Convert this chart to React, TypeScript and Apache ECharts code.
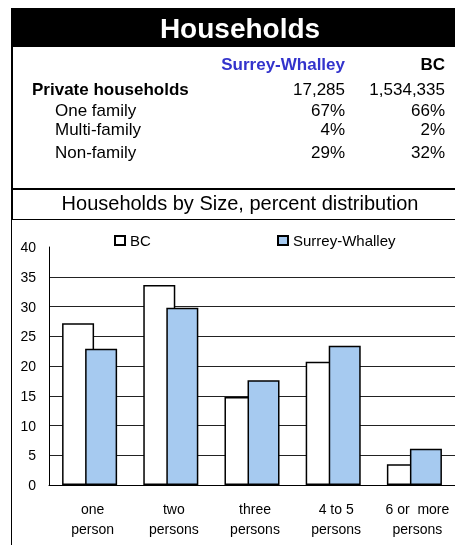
import React, { useEffect, useRef } from "react";
import * as echarts from "echarts";

const categories = ["one\nperson", "two\npersons", "three\npersons", "4 to 5\npersons", "6 or  more\npersons"];
const bcValues = [27.2, 33.6, 14.8, 20.7, 3.5];
const surreyValues = [22.9, 29.8, 17.6, 23.4, 6.1];
const yTicks = { min: 0, max: 40, interval: 5 };

const tableHeaders = ["Surrey-Whalley", "BC"];
const rowLabels = ["Private households", "One family", "Multi-family", "Non-family"];
const surreyColumn = ["17,285", "67%", "4%", "29%"];
const bcColumn = ["1,534,335", "66%", "2%", "32%"];

const FONT = "Liberation Sans, Arial, sans-serif";

export default function App() {
  const ref = useRef<HTMLDivElement>(null);
  useEffect(() => {
    if (!ref.current) return;
    const chart = echarts.init(ref.current, null, { renderer: "svg" });

    const rowY = [89, 110, 129, 152];
    const rowX = [32, 55, 55, 55];
    const graphic: any[] = [
      { type: "rect", shape: { x: 11, y: 8, width: 444, height: 39 }, style: { fill: "#000" } },
      {
        type: "text", x: 240, y: 28,
        style: { text: "Households", fill: "#fff", font: `bold 28px ${FONT}`, align: "center", verticalAlign: "middle" },
      },
      { type: "line", shape: { x1: 12, y1: 47, x2: 12, y2: 219 }, style: { stroke: "#000", lineWidth: 2 } },
      { type: "line", shape: { x1: 11, y1: 189, x2: 455, y2: 189 }, style: { stroke: "#000", lineWidth: 2 } },
      { type: "line", shape: { x1: 11, y1: 219.5, x2: 455, y2: 219.5 }, style: { stroke: "#000", lineWidth: 1 } },
      { type: "line", shape: { x1: 11.5, y1: 219, x2: 11.5, y2: 545 }, style: { stroke: "#000", lineWidth: 1 } },
      {
        type: "text", x: 240, y: 203,
        style: { text: "Households by Size, percent distribution", fill: "#000", font: `20px ${FONT}`, align: "center", verticalAlign: "middle" },
      },
      {
        type: "text", x: 345, y: 64,
        style: { text: tableHeaders[0], fill: "#3333CC", font: `bold 17px ${FONT}`, align: "right", verticalAlign: "middle" },
      },
      {
        type: "text", x: 445, y: 64,
        style: { text: tableHeaders[1], fill: "#000", font: `bold 17px ${FONT}`, align: "right", verticalAlign: "middle" },
      },
    ];
    rowLabels.forEach((lab, i) => {
      const weight = i === 0 ? "bold " : "";
      graphic.push({
        type: "text", x: rowX[i], y: rowY[i],
        style: { text: lab, fill: "#000", font: `${weight}17px ${FONT}`, align: "left", verticalAlign: "middle" },
      });
      graphic.push({
        type: "text", x: 345, y: rowY[i],
        style: { text: surreyColumn[i], fill: "#000", font: `17px ${FONT}`, align: "right", verticalAlign: "middle" },
      });
      graphic.push({
        type: "text", x: 445, y: rowY[i],
        style: { text: bcColumn[i], fill: "#000", font: `17px ${FONT}`, align: "right", verticalAlign: "middle" },
      });
    });

    const legendCommon = {
      top: 233,
      padding: 0,
      itemWidth: 10,
      itemHeight: 9,
      icon: "rect",
      textStyle: { fontSize: 15, color: "#000", fontFamily: FONT },
    };

    chart.setOption({
      animation: false,
      graphic,
      legend: [
        { ...legendCommon, left: 114, data: ["BC"] },
        { ...legendCommon, left: 277, data: ["Surrey-Whalley"] },
      ],
      grid: { left: 49, right: -3, top: 247, bottom: 60, containLabel: false },
      xAxis: {
        type: "category",
        data: categories,
        axisLine: { lineStyle: { color: "#000", width: 1 } },
        axisTick: { show: false },
        axisLabel: {
          fontSize: 14, lineHeight: 20, color: "#000", fontFamily: FONT, margin: 14, interval: 0,
          padding: [0, 0, 0, 6],
        },
      },
      yAxis: {
        type: "value",
        min: yTicks.min,
        max: yTicks.max,
        interval: yTicks.interval,
        axisLine: { show: true, lineStyle: { color: "#000", width: 1 } },
        axisTick: { show: false },
        axisLabel: { fontSize: 14, color: "#000", fontFamily: FONT, margin: 13 },
        splitLine: { show: true, showMaxLine: false, lineStyle: { color: "#222", width: 1 } },
      },
      series: [
        {
          name: "BC",
          type: "bar",
          data: bcValues,
          barWidth: 32,
          barGap: "-28%",
          itemStyle: { color: "#ffffff", borderColor: "#000", borderWidth: 1.5 },
        },
        {
          name: "Surrey-Whalley",
          type: "bar",
          data: surreyValues,
          barWidth: 32,
          itemStyle: { color: "#A6CAF0", borderColor: "#000", borderWidth: 1.5 },
        },
      ],
    });
    return () => chart.dispose();
  }, []);
  return <div ref={ref} style={{ position: "fixed", left: 0, top: 0, width: 455, height: 545 }} />;
}
